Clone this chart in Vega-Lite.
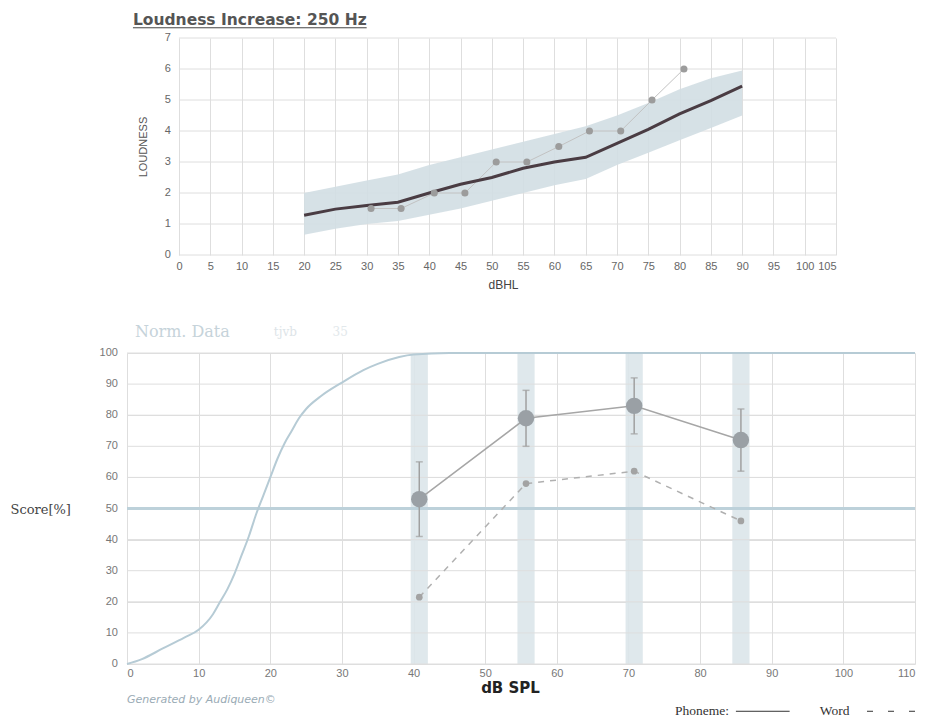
{
  "$schema": "https://vega.github.io/schema/vega-lite/v6.json",
  "background": "white",
  "padding": {"left": 10, "top": 12, "right": 0, "bottom": 0},
  "spacing": 34,
  "config": {
    "view": {"stroke": null},
    "axis": {"domain": false, "ticks": false, "gridColor": "#dedede", "gridWidth": 1, "labelColor": "#666", "labelFont": "Liberation Sans", "labelFontSize": 11, "labelOverlap": false}
  },
  "datasets": {
    "topNorm": [
      {"x": 20, "y": 1.28, "lo": 0.65, "hi": 2.0},
      {"x": 25, "y": 1.48, "lo": 0.85, "hi": 2.2},
      {"x": 30, "y": 1.6, "lo": 1.0, "hi": 2.4},
      {"x": 35, "y": 1.7, "lo": 1.1, "hi": 2.6},
      {"x": 40, "y": 2.0, "lo": 1.3, "hi": 2.9},
      {"x": 45, "y": 2.28, "lo": 1.5, "hi": 3.15},
      {"x": 50, "y": 2.5, "lo": 1.75, "hi": 3.4},
      {"x": 55, "y": 2.8, "lo": 2.0, "hi": 3.65},
      {"x": 60, "y": 3.0, "lo": 2.25, "hi": 3.9},
      {"x": 65, "y": 3.15, "lo": 2.45, "hi": 4.15},
      {"x": 70, "y": 3.6, "lo": 2.9, "hi": 4.5},
      {"x": 75, "y": 4.05, "lo": 3.3, "hi": 4.9},
      {"x": 80, "y": 4.55, "lo": 3.7, "hi": 5.35},
      {"x": 85, "y": 4.98, "lo": 4.1, "hi": 5.7},
      {"x": 90, "y": 5.45, "lo": 4.5, "hi": 5.95}
    ],
    "topMeas": [
      {"x": 30.7, "y": 1.5},
      {"x": 35.5, "y": 1.5},
      {"x": 40.8, "y": 2.0},
      {"x": 45.7, "y": 2.0},
      {"x": 50.7, "y": 3.0},
      {"x": 55.6, "y": 3.0},
      {"x": 60.7, "y": 3.5},
      {"x": 65.6, "y": 4.0},
      {"x": 70.6, "y": 4.0},
      {"x": 75.6, "y": 5.0},
      {"x": 80.7, "y": 6.0}
    ],
    "topGrid": [{"v": 0}, {"v": 1}, {"v": 2}, {"v": 3}, {"v": 4}, {"v": 5}, {"v": 6}, {"v": 7}],
    "botTicks": [{"v": 0}, {"v": 10}, {"v": 20}, {"v": 30}, {"v": 40}, {"v": 50}, {"v": 60}, {"v": 70}, {"v": 80}, {"v": 90}, {"v": 100}],
    "curve": [
      {"x": 0, "y": 0}, {"x": 2, "y": 1.5}, {"x": 5, "y": 5}, {"x": 8, "y": 8.5}, {"x": 10, "y": 11},
      {"x": 12, "y": 16}, {"x": 13, "y": 20}, {"x": 14, "y": 24}, {"x": 15, "y": 29}, {"x": 16, "y": 35},
      {"x": 17, "y": 41}, {"x": 18, "y": 48}, {"x": 19, "y": 54}, {"x": 20, "y": 60}, {"x": 21, "y": 66},
      {"x": 22, "y": 71}, {"x": 23, "y": 75}, {"x": 24, "y": 79}, {"x": 25, "y": 82}, {"x": 27, "y": 86},
      {"x": 30, "y": 90.5}, {"x": 33, "y": 94.5}, {"x": 35, "y": 96.5}, {"x": 38, "y": 98.7}, {"x": 40, "y": 99.5},
      {"x": 45, "y": 100}, {"x": 110, "y": 100}
    ],
    "phon": [
      {"x": 40.8, "y": 53, "lo": 41, "hi": 65},
      {"x": 55.7, "y": 79, "lo": 70, "hi": 88},
      {"x": 70.8, "y": 83, "lo": 74, "hi": 92},
      {"x": 85.7, "y": 72, "lo": 62, "hi": 82}
    ],
    "word": [
      {"x": 40.8, "y": 21.5},
      {"x": 55.7, "y": 58},
      {"x": 70.8, "y": 62},
      {"x": 85.7, "y": 46}
    ],
    "bands": [
      {"lo": 39.6, "hi": 42.0},
      {"lo": 54.5, "hi": 56.9},
      {"lo": 69.6, "hi": 72.0},
      {"lo": 84.5, "hi": 86.9}
    ]
  },
  "vconcat": [
    {
      "width": 709,
      "height": 217,
      "layer": [
        {
          "data": {"name": "topGrid"},
          "mark": {"type": "rule", "color": "#dedede", "strokeWidth": 1},
          "encoding": {
            "x": {"datum": 0, "type": "quantitative", "scale": {"domain": [-8.3, 105], "nice": false, "zero": false},
              "axis": {"values": [0,5,10,15,20,25,30,35,40,45,50,55,60,65,70,75,80,85,90,95,100,105], "tickCount": 23, "labelExpr": "datum.value < 0 ? '' : datum.label", "gridOpacity": {"condition": {"test": "datum.value < 0", "value": 0}, "value": 1}, "grid": true, "labelPadding": 5, "title": "dBHL", "titleX": 376, "titleY": 29, "titleBaseline": "middle", "titleFont": "Liberation Sans", "titleFontSize": 12, "titleFontWeight": "normal", "titleColor": "#444"}},
            "x2": {"datum": 105},
            "y": {"field": "v", "type": "quantitative", "scale": {"domain": [0, 7], "nice": false},
              "axis": {"labels": false, "grid": false, "offset": -52, "title": "LOUDNESS", "titleX": -36, "titleBaseline": "middle", "titleFont": "Liberation Sans", "titleFontSize": 11, "titleFontWeight": "normal", "titleColor": "#555"}}
          }
        },
        {
          "data": {"name": "topGrid"},
          "mark": {"type": "text", "align": "right", "baseline": "middle", "font": "Liberation Sans", "fontSize": 11, "color": "#666"},
          "encoding": {
            "x": {"datum": -1.28, "type": "quantitative"},
            "y": {"field": "v", "type": "quantitative"},
            "text": {"field": "v", "type": "quantitative"}
          }
        },
        {
          "data": {"name": "topNorm"},
          "mark": {"type": "area", "color": "#d2dee3", "opacity": 0.9},
          "encoding": {
            "x": {"field": "x", "type": "quantitative"},
            "y": {"field": "lo", "type": "quantitative"},
            "y2": {"field": "hi"}
          }
        },
        {
          "data": {"name": "topMeas"},
          "mark": {"type": "line", "color": "#c2c2c2", "strokeWidth": 1},
          "encoding": {
            "x": {"field": "x", "type": "quantitative"},
            "y": {"field": "y", "type": "quantitative"}
          }
        },
        {
          "data": {"name": "topNorm"},
          "mark": {"type": "line", "color": "#4a3c43", "strokeWidth": 3},
          "encoding": {
            "x": {"field": "x", "type": "quantitative"},
            "y": {"field": "y", "type": "quantitative"}
          }
        },
        {
          "data": {"name": "topMeas"},
          "mark": {"type": "circle", "color": "#9c9c9c", "size": 50, "opacity": 1},
          "encoding": {
            "x": {"field": "x", "type": "quantitative"},
            "y": {"field": "y", "type": "quantitative"}
          }
        },
        {
          "data": {"values": [{"label": "Loudness Increase: 250 Hz"}]},
          "mark": {"type": "text", "align": "left", "baseline": "alphabetic", "font": "DejaVu Sans", "fontSize": 15.5, "fontWeight": "bold", "color": "#555"},
          "encoding": {
            "x": {"datum": -7.35, "type": "quantitative"},
            "y": {"datum": 7.42, "type": "quantitative"},
            "text": {"field": "label"}
          }
        },
        {
          "data": {"values": [{"label": "underline"}]},
          "mark": {"type": "rule", "color": "#444", "strokeWidth": 1},
          "encoding": {
            "x": {"datum": -7.35, "type": "quantitative"},
            "x2": {"datum": 30.0},
            "y": {"datum": 7.33, "type": "quantitative"}
          }
        }
      ]
    },
    {
      "width": 788,
      "height": 311,
      "layer": [
        {
          "data": {"name": "bands"},
          "mark": {"type": "rect", "color": "#dbe5ea", "opacity": 0.9},
          "encoding": {
            "x": {"field": "lo", "type": "quantitative", "scale": {"domain": [0, 110], "nice": false},
              "axis": {"values": [0,5,10,15,20,25,30,35,40,45,50,55,60,65,70,75,80,85,90,95,100,105,110], "tickCount": 22, "labelExpr": "datum.value % 10 === 0 ? datum.label : ''", "grid": true, "labelPadding": 3, "labelColor": "#777", "title": "dB SPL", "titleX": 383, "titleY": 23, "titleBaseline": "middle", "titleFont": "DejaVu Sans", "titleFontSize": 15, "titleFontWeight": "bold", "titleColor": "#222"}},
            "x2": {"field": "hi"},
            "y": {"datum": 0, "type": "quantitative", "scale": {"domain": [0, 100], "nice": false},
              "axis": {"values": [0,10,20,30,40,50,60,70,80,90,100], "tickCount": 10, "labels": false, "grid": true, "title": "Score[%]", "titleAngle": 0, "titleX": -117, "titleY": 156, "titleAlign": "left", "titleBaseline": "middle", "titleFont": "DejaVu Serif", "titleFontSize": 13, "titleFontWeight": "normal", "titleColor": "#444"}},
            "y2": {"datum": 100}
          }
        },
        {
          "data": {"name": "botTicks"},
          "mark": {"type": "rule", "color": "#dedede", "strokeWidth": 1},
          "encoding": {
            "x": {"datum": 0, "type": "quantitative"},
            "x2": {"datum": 110},
            "y": {"field": "v", "type": "quantitative"}
          }
        },
        {
          "data": {"name": "botTicks"},
          "mark": {"type": "text", "align": "right", "baseline": "middle", "font": "Liberation Sans", "fontSize": 11, "color": "#777"},
          "encoding": {
            "x": {"datum": -1.26, "type": "quantitative"},
            "y": {"field": "v", "type": "quantitative"},
            "text": {"field": "v", "type": "quantitative"}
          }
        },
        {
          "data": {"values": [{"v": 50}]},
          "mark": {"type": "rule", "color": "#bdd1da", "strokeWidth": 3},
          "encoding": {
            "x": {"datum": 0, "type": "quantitative"},
            "x2": {"datum": 110},
            "y": {"field": "v", "type": "quantitative"}
          }
        },
        {
          "data": {"name": "curve"},
          "mark": {"type": "line", "color": "#b6cbd5", "strokeWidth": 2, "interpolate": "monotone"},
          "encoding": {
            "x": {"field": "x", "type": "quantitative"},
            "y": {"field": "y", "type": "quantitative"}
          }
        },
        {
          "data": {"name": "phon"},
          "mark": {"type": "rule", "color": "#a0a0a0", "strokeWidth": 1.5},
          "encoding": {
            "x": {"field": "x", "type": "quantitative"},
            "y": {"field": "lo", "type": "quantitative"},
            "y2": {"field": "hi"}
          }
        },
        {
          "data": {"name": "phon"},
          "mark": {"type": "tick", "orient": "horizontal", "color": "#a0a0a0", "size": 7, "thickness": 1.5},
          "encoding": {
            "x": {"field": "x", "type": "quantitative"},
            "y": {"field": "lo", "type": "quantitative"}
          }
        },
        {
          "data": {"name": "phon"},
          "mark": {"type": "tick", "orient": "horizontal", "color": "#a0a0a0", "size": 7, "thickness": 1.5},
          "encoding": {
            "x": {"field": "x", "type": "quantitative"},
            "y": {"field": "hi", "type": "quantitative"}
          }
        },
        {
          "data": {"name": "phon"},
          "mark": {"type": "line", "color": "#a6a6a6", "strokeWidth": 1.5},
          "encoding": {
            "x": {"field": "x", "type": "quantitative"},
            "y": {"field": "y", "type": "quantitative"}
          }
        },
        {
          "data": {"name": "word"},
          "mark": {"type": "line", "color": "#b0b0b0", "strokeWidth": 1.5, "strokeDash": [6, 6]},
          "encoding": {
            "x": {"field": "x", "type": "quantitative"},
            "y": {"field": "y", "type": "quantitative"}
          }
        },
        {
          "data": {"name": "phon"},
          "mark": {"type": "circle", "color": "#9aa0a5", "size": 270, "opacity": 1},
          "encoding": {
            "x": {"field": "x", "type": "quantitative"},
            "y": {"field": "y", "type": "quantitative"}
          }
        },
        {
          "data": {"name": "word"},
          "mark": {"type": "circle", "color": "#a3a3a3", "size": 45, "opacity": 1},
          "encoding": {
            "x": {"field": "x", "type": "quantitative"},
            "y": {"field": "y", "type": "quantitative"}
          }
        },
        {
          "data": {"values": [{"label": "Norm. Data"}]},
          "mark": {"type": "text", "align": "left", "baseline": "middle", "font": "DejaVu Serif", "fontSize": 16, "color": "#c6d3da"},
          "encoding": {
            "x": {"datum": 1.1, "type": "quantitative"},
            "y": {"datum": 106.75, "type": "quantitative"},
            "text": {"field": "label"}
          }
        },
        {
          "data": {"values": [{"label": "tjvb"}]},
          "mark": {"type": "text", "align": "left", "baseline": "middle", "font": "DejaVu Serif", "fontSize": 12, "color": "#dde4e8"},
          "encoding": {
            "x": {"datum": 20.5, "type": "quantitative"},
            "y": {"datum": 106.75, "type": "quantitative"},
            "text": {"field": "label"}
          }
        },
        {
          "data": {"values": [{"label": "35"}]},
          "mark": {"type": "text", "align": "left", "baseline": "middle", "font": "DejaVu Serif", "fontSize": 12, "color": "#e2e8eb"},
          "encoding": {
            "x": {"datum": 28.7, "type": "quantitative"},
            "y": {"datum": 106.75, "type": "quantitative"},
            "text": {"field": "label"}
          }
        },
        {
          "data": {"values": [{"label": "Generated by Audiqueen©"}]},
          "mark": {"type": "text", "align": "left", "baseline": "middle", "font": "DejaVu Sans", "fontSize": 11, "fontStyle": "italic", "color": "#9aabb5"},
          "encoding": {
            "x": {"datum": 0, "type": "quantitative"},
            "y": {"datum": -11.6, "type": "quantitative"},
            "text": {"field": "label"}
          }
        },
        {
          "data": {"values": [{"label": "Phoneme:"}]},
          "mark": {"type": "text", "align": "left", "baseline": "middle", "font": "Liberation Serif", "fontSize": 13.5, "color": "#333"},
          "encoding": {
            "x": {"datum": 76.5, "type": "quantitative"},
            "y": {"datum": -15.2, "type": "quantitative"},
            "text": {"field": "label"}
          }
        },
        {
          "data": {"values": [{"label": "Word"}]},
          "mark": {"type": "text", "align": "left", "baseline": "middle", "font": "Liberation Serif", "fontSize": 13.5, "color": "#333"},
          "encoding": {
            "x": {"datum": 96.7, "type": "quantitative"},
            "y": {"datum": -15.2, "type": "quantitative"},
            "text": {"field": "label"}
          }
        },
        {
          "data": {"values": [{"label": "Phoneme"}]},
          "mark": {"type": "rule", "color": "#333", "strokeWidth": 1},
          "encoding": {
            "x": {"datum": 85.0, "type": "quantitative"},
            "x2": {"datum": 92.5},
            "y": {"datum": -15.2, "type": "quantitative"}
          }
        },
        {
          "data": {"values": [{"label": "Word"}]},
          "mark": {"type": "rule", "color": "#333", "strokeWidth": 1, "strokeDash": [6, 15]},
          "encoding": {
            "x": {"datum": 103.3, "type": "quantitative"},
            "x2": {"datum": 110.0},
            "y": {"datum": -15.2, "type": "quantitative"}
          }
        }
      ]
    }
  ]
}
